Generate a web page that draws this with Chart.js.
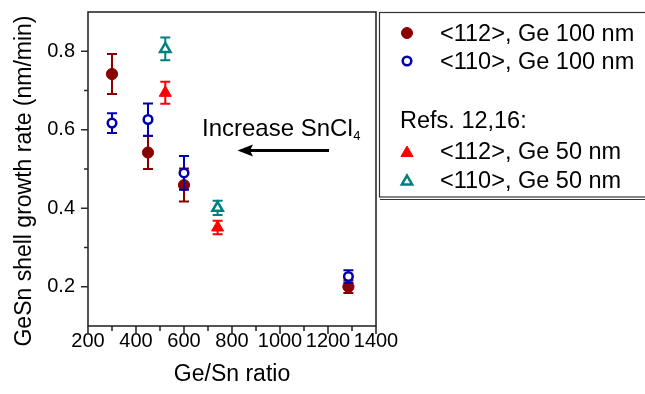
<!DOCTYPE html>
<html>
<head>
<meta charset="utf-8">
<script src="https://cdn.jsdelivr.net/npm/chart.js@4.4.1/dist/chart.umd.min.js"></script>
<style>
  html,body{margin:0;padding:0;background:#fff;}
  #wrap{width:645px;height:394px;position:relative;}
</style>
</head>
<body>
<div id="wrap"><canvas id="c" width="645" height="394"></canvas></div>
<script>
// ---- data ----
const xTickLabels = [200, 400, 600, 800, 1000, 1200, 1400];
const yTickLabels = [0.2, 0.4, 0.6, 0.8];

const x112_100 = [300, 450, 600, 1285];
const y112_100 = [0.742, 0.542, 0.459, 0.200];
const e112_100 = [0.051, 0.042, 0.042, 0.016];

const x110_100 = [300, 450, 600, 1285];
const y110_100 = [0.617, 0.626, 0.490, 0.226];
const e110_100 = [0.025, 0.041, 0.043, 0.016];

const x112_50 = [522, 740];
const y112_50 = [0.694, 0.351];
const e112_50 = [0.028, 0.017];

const x110_50 = [522, 740];
const y110_50 = [0.806, 0.401];
const e110_50 = [0.029, 0.018];

const seriesNames = ['<112>, Ge 100 nm', '<110>, Ge 100 nm', '<112>, Ge 50 nm', '<110>, Ge 50 nm'];
const refsHeader = 'Refs. 12,16:';
const xTitle = 'Ge/Sn ratio';
const yTitle = 'GeSn shell growth rate (nm/min)';
const annotText = 'Increase SnCl';
const annotSub = '4';

// ---- styles ----
const FONT = "'Liberation Sans', Arial, Helvetica, sans-serif";
const C_DRED = '#8a0000', C_BLUE = '#0000b0', C_RED = '#ff0000', C_TEAL = '#008080';

function pts(xs, ys, es){ return xs.map((x,i)=>({x:x, y:ys[i], e:es[i]})); }

const datasets = [
  {label: seriesNames[0], data: pts(x112_100, y112_100, e112_100), pointStyle:'circle', pointRadius:5.6,
   backgroundColor:C_DRED, borderColor:C_DRED, borderWidth:1, order:4, errColor:C_DRED},
  {label: seriesNames[1], data: pts(x110_100, y110_100, e110_100), pointStyle:'circle', pointRadius:4.3,
   backgroundColor:'#ffffff', borderColor:C_BLUE, borderWidth:2.5, order:3, errColor:C_BLUE},
  {label: seriesNames[2], data: pts(x112_50, y112_50, e112_50), pointStyle:'triangle', pointRadius:7,
   backgroundColor:C_RED, borderColor:C_RED, borderWidth:1, order:2, errColor:C_RED},
  {label: seriesNames[3], data: pts(x110_50, y110_50, e110_50), pointStyle:'triangle', pointRadius:6,
   backgroundColor:'#ffffff', borderColor:C_TEAL, borderWidth:2.5, order:1, errColor:C_TEAL},
];

const errorBars = {
  id:'errorBars',
  beforeDatasetDraw(chart, args){
    const ds = chart.data.datasets[args.index];
    const xs = chart.scales.x, ys = chart.scales.y;
    const ctx = chart.ctx;
    ctx.save();
    ctx.strokeStyle = ds.errColor;
    ctx.lineWidth = 2;
    ds.data.forEach(p=>{
      const px = xs.getPixelForValue(p.x);
      const top = ys.getPixelForValue(p.y + p.e);
      const bot = ys.getPixelForValue(p.y - p.e);
      ctx.beginPath();
      ctx.moveTo(px, top); ctx.lineTo(px, bot);
      ctx.moveTo(px-5, top); ctx.lineTo(px+5, top);
      ctx.moveTo(px-5, bot); ctx.lineTo(px+5, bot);
      ctx.stroke();
    });
    ctx.restore();
  }
};

const decorations = {
  id:'decorations',
  afterDraw(chart){
    const ctx = chart.ctx;
    const a = chart.chartArea;
    const xs = chart.scales.x, ys = chart.scales.y;
    ctx.save();
    // frame
    ctx.strokeStyle = '#2a2a2a';
    ctx.lineWidth = 1.6;
    ctx.strokeRect(a.left, a.top, a.right - a.left, a.bottom - a.top);
    // ticks
    ctx.beginPath();
    for (let v = 200; v <= 1400; v += 100){
      const px = xs.getPixelForValue(v);
      const major = (v % 200 === 0);
      ctx.moveTo(px, a.bottom); ctx.lineTo(px, a.bottom + (major ? 8 : 5));
    }
    for (let k = 2; k <= 8; k++){
      const v = k/10;
      const py = ys.getPixelForValue(v);
      const major = (k % 2 === 0);
      ctx.moveTo(a.left, py); ctx.lineTo(a.left - (major ? 7 : 4), py);
    }
    ctx.stroke();

    // axis titles
    ctx.fillStyle = '#000';
    ctx.font = '23px ' + FONT;
    ctx.textAlign = 'center';
    ctx.textBaseline = 'alphabetic';
    ctx.fillText(xTitle, (a.left + a.right)/2, 381);
    ctx.save();
    ctx.translate(31, 181);
    ctx.rotate(-Math.PI/2);
    ctx.fillText(yTitle, 0, 0);
    ctx.restore();

    // annotation
    ctx.textAlign = 'left';
    ctx.font = '24px ' + FONT;
    ctx.fillText(annotText, 202, 136);
    const w = ctx.measureText(annotText).width;
    ctx.font = '13px ' + FONT;
    ctx.fillText(annotSub, 202 + w + 0.5, 140);
    // arrow
    ctx.strokeStyle = '#000';
    ctx.fillStyle = '#000';
    ctx.lineWidth = 3.2;
    ctx.beginPath();
    ctx.moveTo(329, 150.5); ctx.lineTo(250, 150.5);
    ctx.stroke();
    ctx.beginPath();
    ctx.moveTo(237.5, 150.5); ctx.lineTo(253, 144.5); ctx.lineTo(250, 150.5); ctx.lineTo(253, 156.5); ctx.closePath();
    ctx.fill();

    // legend box
    ctx.strokeStyle = '#333';
    ctx.lineWidth = 1.2;
    ctx.strokeRect(379.5, 12.5, 300, 184.5);
    ctx.beginPath();
    ctx.moveTo(380, 199.5); ctx.lineTo(645, 199.5);
    ctx.stroke();

    // legend entries
    const rows = [
      {ds:0, y:33, ty:41},
      {ds:1, y:61, ty:69},
      {ds:2, y:151.5, ty:159},
      {ds:3, y:180, ty:188},
    ];
    const mr = [5.5, 4.3, 7, 6];
    rows.forEach((r)=>{
      const ds = chart.data.datasets[r.ds];
      ctx.save();
      ctx.fillStyle = ds.backgroundColor;
      ctx.strokeStyle = ds.borderColor;
      ctx.lineWidth = ds.borderWidth;
      const yy = ds.pointStyle === 'triangle' ? r.y + 1.5 : r.y;
      Chart.helpers.drawPoint(ctx, {pointStyle: ds.pointStyle, radius: mr[r.ds], borderWidth: ds.borderWidth}, 407, yy);
      ctx.restore();
      ctx.fillStyle = '#000';
      ctx.font = '23.5px ' + FONT;
      ctx.textAlign = 'left';
      ctx.fillText(ds.label, 440, r.ty);
    });
    ctx.fillText(refsHeader, 400, 128);
    ctx.restore();
  }
};

new Chart(document.getElementById('c'), {
  type: 'scatter',
  data: { datasets: datasets },
  options: {
    responsive: false,
    animation: false,
    devicePixelRatio: 1,
    layout: { padding: { left: 0, top: 12, right: 269, bottom: 0 } },
    plugins: { legend: { display: false }, tooltip: { enabled: false } },
    scales: {
      x: {
        type: 'linear', min: 200, max: 1400,
        grid: { display: false, drawTicks: false },
        border: { display: false },
        afterFit(s){ s.height = 68; s.paddingLeft = 0; s.paddingRight = 0; },
        afterBuildTicks(s){ s.ticks = xTickLabels.map(v=>({value:v})); },
        ticks: {
          autoSkip: false, maxRotation: 0, padding: 3,
          color: '#000', font: { family: FONT, size: 20 },
          callback: v => String(v)
        }
      },
      y: {
        type: 'linear', min: 0.1, max: 0.9,
        grid: { display: false, drawTicks: false },
        border: { display: false },
        afterFit(s){ s.width = 88; s.paddingTop = 0; s.paddingBottom = 0; },
        afterBuildTicks(s){ s.ticks = yTickLabels.map(v=>({value:v})); },
        ticks: {
          autoSkip: false, padding: 13,
          color: '#000', font: { family: FONT, size: 20 },
          callback: v => Number(v).toFixed(1)
        }
      }
    }
  },
  plugins: [errorBars, decorations]
});
</script>
</body>
</html>
